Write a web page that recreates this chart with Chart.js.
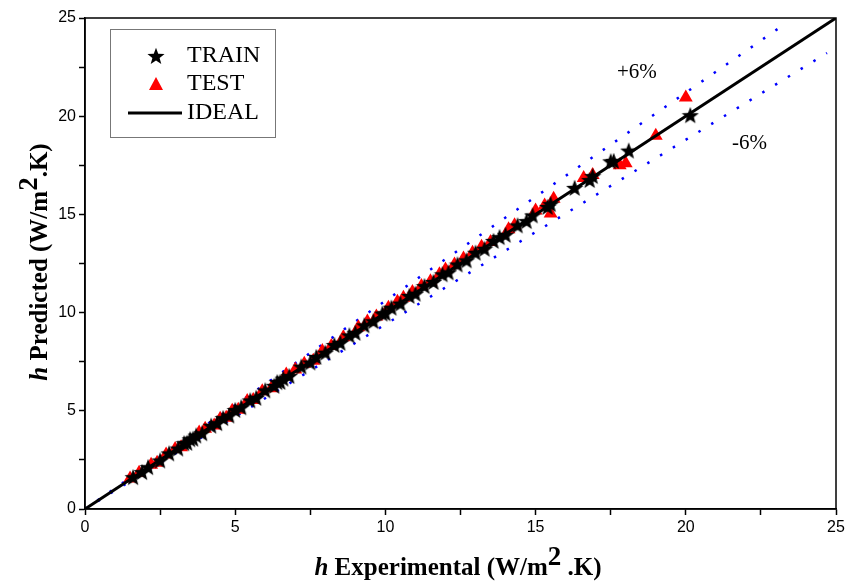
<!DOCTYPE html>
<html>
<head>
<meta charset="utf-8">
<script src="https://cdn.jsdelivr.net/npm/chart.js@4.4.1/dist/chart.umd.min.js"></script>
<style>
  html, body { margin: 0; padding: 0; background: #fff; }
  #wrap { width: 857px; height: 582px; }
</style>
</head>
<body>
<div id="wrap"><canvas id="parity"></canvas></div>
<script>
// train / test sets (experimental vs predicted h)
const trainExp = [1.6, 1.9, 2.1, 2.5, 2.8, 3.1, 3.3, 3.4, 3.5, 3.6, 3.7, 3.9, 4.2, 4.4, 4.6, 4.8, 5.0, 5.2, 5.5, 5.7, 6.0, 6.3, 6.4, 6.5, 6.6, 6.8, 7.2, 7.5, 7.7, 8.0, 8.3, 8.5, 8.8, 9.0, 9.3, 9.6, 9.9, 10.0, 10.2, 10.5, 10.8, 11.0, 11.3, 11.6, 11.9, 12.1, 12.4, 12.7, 13.0, 13.3, 13.6, 13.8, 14.0, 14.4, 14.7, 14.9, 15.4, 15.5, 16.3, 16.8, 16.9, 17.5, 17.6, 18.1, 20.15]
const trainPred = [1.62, 1.88, 2.13, 2.47, 2.83, 3.08, 3.35, 3.37, 3.55, 3.58, 3.74, 3.86, 4.24, 4.37, 4.63, 4.76, 5.04, 5.18, 5.53, 5.66, 6.04, 6.27, 6.46, 6.47, 6.64, 6.77, 7.25, 7.46, 7.74, 7.96, 8.35, 8.46, 8.84, 8.97, 9.35, 9.56, 9.95, 9.97, 10.25, 10.46, 10.85, 10.96, 11.35, 11.56, 11.95, 12.05, 12.45, 12.66, 13.05, 13.25, 13.65, 13.84, 13.96, 14.44, 14.66, 14.95, 15.38, 15.52, 16.35, 16.75, 16.95, 17.7, 17.72, 18.25, 20.05]
const testExp = [1.5, 1.8, 2.2, 2.4, 2.7, 3.0, 3.2, 3.8, 4.0, 4.3, 4.5, 4.7, 4.9, 5.1, 5.4, 5.6, 5.9, 6.2, 6.7, 7.0, 7.3, 7.6, 7.9, 8.2, 8.6, 9.1, 9.4, 9.7, 10.1, 10.4, 10.6, 10.9, 11.2, 11.5, 11.8, 12.0, 12.3, 12.6, 12.9, 13.2, 13.5, 14.1, 14.3, 15.0, 15.3, 15.5, 15.6, 16.6, 16.9, 17.8, 18.0, 19.0, 20.0]
const testPred = [1.55, 1.85, 2.25, 2.35, 2.78, 3.05, 3.15, 3.9, 4.08, 4.25, 4.6, 4.65, 5.0, 5.05, 5.5, 5.55, 6.0, 6.15, 6.85, 7.1, 7.4, 7.55, 8.05, 8.3, 8.75, 9.25, 9.55, 9.8, 10.25, 10.55, 10.75, 11.05, 11.35, 11.6, 11.95, 12.2, 12.45, 12.75, 13.05, 13.35, 13.6, 14.25, 14.45, 15.2, 15.45, 15.05, 15.8, 16.85, 17.0, 17.5, 17.6, 19.0, 20.95]

// ideal line and the +/-6% band
const idealX = [0, 25]
const bandPct = 6
const upperEndX = 23.1
const lowerEndX = 24.7

const axisMin = 0
const axisMax = 25
const tickStep = 2.5

const pairs = (xs, ys) => xs.map((x, i) => ({ x: x, y: ys[i] }))

// filled five-point star marker
function makeStar(size, color) {
  const c = document.createElement('canvas')
  c.width = size
  c.height = size
  const g = c.getContext('2d')
  const r = size / 2, ri = r * 0.42
  g.beginPath()
  for (let i = 0; i < 10; i++) {
    const rad = i % 2 === 0 ? r : ri
    const a = -Math.PI / 2 + i * Math.PI / 5
    const px = r + rad * Math.cos(a)
    const py = r + 0.8 + rad * Math.sin(a)
    i === 0 ? g.moveTo(px, py) : g.lineTo(px, py)
  }
  g.closePath()
  g.fillStyle = color
  g.fill()
  return c
}
const starImg = makeStar(18, '#000')

const serif = '"Liberation Serif", "Times New Roman", serif'
const sans = '"Liberation Sans", Arial, sans-serif'

// draws text runs side by side, [text, font, raise]
function drawRuns(ctx, runs, cx, cy) {
  let total = 0
  runs.forEach(r => { ctx.font = r[1]; total += ctx.measureText(r[0]).width })
  let x = cx - total / 2
  runs.forEach(r => {
    ctx.font = r[1]
    ctx.fillText(r[0], x, cy - (r[2] || 0))
    x += ctx.measureText(r[0]).width
  })
}

const decorations = {
  id: 'decorations',
  afterDraw(chart) {
    const ctx = chart.ctx
    const a = chart.chartArea
    ctx.save()
    // frame
    ctx.strokeStyle = '#000'
    ctx.lineWidth = 1.5
    ctx.strokeRect(a.left, a.top, a.right - a.left, a.bottom - a.top)

    // legend box
    const lx = 110, ly = 29, lw = 165, lh = 108
    ctx.fillStyle = '#fff'
    ctx.fillRect(lx, ly, lw, lh)
    ctx.strokeStyle = '#777'
    ctx.lineWidth = 1
    ctx.strokeRect(lx + 0.5, ly + 0.5, lw, lh)
    ctx.drawImage(starImg, 156 - 9, 56 - 9)
    ctx.fillStyle = '#ff0000'
    ctx.beginPath()
    ctx.moveTo(156, 77); ctx.lineTo(163, 90); ctx.lineTo(149, 90)
    ctx.closePath(); ctx.fill()
    ctx.strokeStyle = '#000'
    ctx.lineWidth = 3
    ctx.beginPath(); ctx.moveTo(128, 113); ctx.lineTo(182, 113); ctx.stroke()
    ctx.fillStyle = '#000'
    ctx.font = '24px ' + serif
    ctx.textBaseline = 'middle'
    ctx.textAlign = 'left'
    ctx.fillText('TRAIN', 187, 56)
    ctx.fillText('TEST', 187, 84)
    ctx.fillText('IDEAL', 187, 113)

    // band labels
    ctx.font = '21px ' + serif
    ctx.fillText('+' + bandPct + '%', 617, 72)
    ctx.fillText('-' + bandPct + '%', 732, 143)

    // axis titles
    ctx.textBaseline = 'alphabetic'
    ctx.textAlign = 'left'
    const b = 'bold 25px ' + serif
    const sup = 'bold 27px ' + serif
    const runsX = [['h', 'italic bold 25px ' + serif], [' Experimental (W/m', b], ['2', sup, 10], [' .K)', b]]
    drawRuns(ctx, runsX, 458, 575)
    ctx.translate(47, 262)
    ctx.rotate(-Math.PI / 2)
    const runsY = [['h', 'italic bold 25px ' + serif], [' Predicted (W/m', b], ['2', sup, 10], ['.K)', b]]
    drawRuns(ctx, runsY, 0, 0)
    ctx.restore()
  }
}

const tickLabel = v => (Math.abs(v % 5) < 1e-9 ? String(v) : '')

const axisCommon = {
  type: 'linear',
  min: axisMin,
  max: axisMax,
  ticks: {
    stepSize: tickStep,
    autoSkip: false,
    maxRotation: 0,
    color: '#000',
    font: { family: sans, size: 16 },
    callback: tickLabel
  },
  grid: {
    drawOnChartArea: false,
    drawTicks: true,
    tickLength: 6,
    tickColor: '#000',
    tickWidth: 1.5
  },
  border: { display: true, color: '#000', width: 1.5 }
}

new Chart(document.getElementById('parity'), {
  type: 'scatter',
  data: {
    datasets: [
      {
        label: 'IDEAL',
        type: 'line',
        data: pairs(idealX, idealX),
        borderColor: '#000',
        borderWidth: 3,
        pointRadius: 0,
        order: 0
      },
      {
        label: 'TRAIN',
        data: pairs(trainExp, trainPred),
        pointStyle: starImg,
        order: 1
      },
      {
        label: 'TEST',
        data: pairs(testExp, testPred),
        pointStyle: 'triangle',
        pointRadius: 8,
        backgroundColor: '#ff0000',
        borderWidth: 0,
        order: 2
      },
      {
        label: '+6%',
        type: 'line',
        data: pairs([0, upperEndX], [0, upperEndX * (1 + bandPct / 100)]),
        borderColor: '#0000ff',
        borderWidth: 2.5,
        borderDash: [2.5, 12.5],
        pointRadius: 0,
        order: 3
      },
      {
        label: '-6%',
        type: 'line',
        data: pairs([0, lowerEndX], [0, lowerEndX * (1 - bandPct / 100)]),
        borderColor: '#0000ff',
        borderWidth: 2.5,
        borderDash: [2.5, 12.5],
        pointRadius: 0,
        order: 4
      }
    ]
  },
  options: {
    responsive: true,
    maintainAspectRatio: false,
    animation: false,
    layout: { padding: { top: 18, right: 21, left: 0, bottom: 0 } },
    plugins: {
      legend: { display: false },
      tooltip: { enabled: false }
    },
    scales: {
      x: Object.assign({}, axisCommon, {
        afterFit: s => { s.height = 73 }
      }),
      y: Object.assign({}, axisCommon, {
        afterFit: s => { s.width = 85 }
      })
    }
  },
  plugins: [decorations]
})
</script>
</body>
</html>
